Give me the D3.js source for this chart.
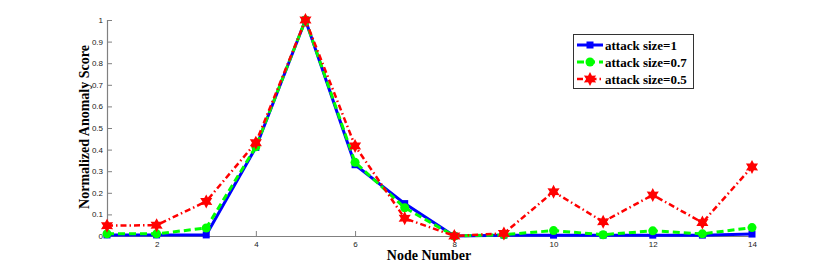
<!DOCTYPE html>
<html><head><meta charset="utf-8">
<script src="https://cdn.jsdelivr.net/npm/d3@7"></script>
<style>body{margin:0;background:#fff}svg{display:block}</style>
</head><body>
<svg id="c" width="830" height="266"></svg>
<script>
const nodes = [1,2,3,4,5,6,7,8,9,10,11,12,13,14];
const size1 = [0.005,0.005,0.005,0.41,1.0,0.33,0.15,0.0,0.004,0.004,0.004,0.004,0.004,0.009];
const size07 = [0.01,0.01,0.037,0.413,1.0,0.341,0.131,0.0,0.006,0.025,0.006,0.024,0.01,0.039];
const size05 = [0.048,0.05,0.16,0.432,1.0,0.417,0.082,0.0,0.012,0.205,0.066,0.19,0.062,0.32];
const xTicks = [2,4,6,8,10,12,14];
const yTicks = [0,0.1,0.2,0.3,0.4,0.5,0.6,0.7,0.8,0.9,1];
const labels = ["attack size=1","attack size=0.7","attack size=0.5"];

const svg = d3.select("#c");
const x = d3.scaleLinear().domain([1,14]).range([107,752]);
const y = d3.scaleLinear().domain([0,1]).range([236,20]);
const axisColor = "#808080";

// y axis
const ya = svg.append("g").attr("transform","translate(107,0)")
  .call(d3.axisLeft(y).tickValues(yTicks).tickSize(-5).tickPadding(4).tickFormat(d=>d3.format("")(+d.toFixed(1))));
// x axis
const xa = svg.append("g").attr("transform","translate(0,236)")
  .call(d3.axisBottom(x).tickValues(xTicks).tickSize(-5).tickPadding(4));
[ya,xa].forEach(a=>{
  a.select(".domain").attr("stroke",axisColor).attr("stroke-width",1.2);
  a.selectAll(".tick line").attr("stroke",axisColor);
  a.selectAll("text").attr("font-family","Liberation Sans, Arial, sans-serif").attr("font-size",8).attr("fill","#222");
});
xa.selectAll(".tick text").attr("dy","0.9em");

const series = [
  {v:size1, color:"#0000ff", dash:null, w:3, m:"square"},
  {v:size07, color:"#00ff00", dash:"7,4", w:3, m:"circle"},
  {v:size05, color:"#ff0000", dash:"6,3,1.5,3", w:2.5, m:"star"}
];
const line = d3.line();
function hexagram(r){
  const pts=[];
  for(let i=0;i<12;i++){
    const a = -Math.PI/2 + i*Math.PI/6;
    const rr = i%2===0 ? r : r*0.55;
    pts.push([rr*Math.cos(a), rr*Math.sin(a)]);
  }
  return "M"+pts.map(p=>p.join(",")).join("L")+"Z";
}
function drawMarker(g, m, color, cx, cy){
  if(m==="square") g.append("rect").attr("x",cx-3.5).attr("y",cy-3.5).attr("width",7).attr("height",7).attr("fill",color);
  else if(m==="circle") g.append("circle").attr("cx",cx).attr("cy",cy).attr("r",4.5).attr("fill",color);
  else g.append("path").attr("d",hexagram(7)).attr("transform",`translate(${cx},${cy})`).attr("fill",color);
}
series.forEach(s=>{
  const g = svg.append("g");
  g.append("path").attr("d",line(nodes.map((n,i)=>[x(n),y(s.v[i])])))
    .attr("fill","none").attr("stroke",s.color).attr("stroke-width",s.w)
    .attr("stroke-dasharray",s.dash).attr("stroke-linejoin","round");
  nodes.forEach((n,i)=>drawMarker(g,s.m,s.color,x(n),y(s.v[i])));
});

// legend
const lg = svg.append("g");
lg.append("rect").attr("x",573.5).attr("y",34.5).attr("width",120).attr("height",54)
  .attr("fill","#fff").attr("stroke","#333").attr("stroke-width",1);
series.forEach((s,i)=>{
  const cy = 45 + i*17;
  lg.append("line").attr("x1",577).attr("x2",603).attr("y1",cy).attr("y2",cy)
    .attr("stroke",s.color).attr("stroke-width",s.w).attr("stroke-dasharray",s.dash);
  drawMarker(lg,s.m,s.color,590,cy);
  lg.append("text").attr("x",605).attr("y",cy).attr("dy","0.35em")
    .attr("font-family","Liberation Serif, Times New Roman, serif").attr("font-weight","bold").attr("font-size",13)
    .text(labels[i]);
});

// axis titles
svg.append("text").attr("x",429).attr("y",260).attr("text-anchor","middle")
  .attr("font-family","Liberation Serif, Times New Roman, serif").attr("font-weight","bold").attr("font-size",14)
  .text("Node Number");
svg.append("text").attr("transform","translate(89,127) rotate(-90)").attr("text-anchor","middle")
  .attr("font-family","Liberation Serif, Times New Roman, serif").attr("font-weight","bold").attr("font-size",14)
  .text("Normalized Anomaly Score");
</script>
</body></html>
